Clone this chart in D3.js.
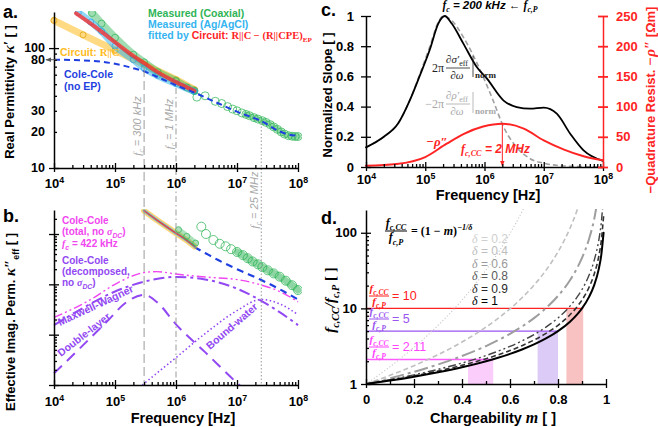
<!DOCTYPE html>
<html>
<head>
<meta charset="utf-8">
<script src="https://cdn.jsdelivr.net/npm/d3@7/dist/d3.min.js"></script>
<style>
  body { margin: 0; background: #fff; }
  svg { font-family: 'Liberation Sans', Arial, sans-serif; font-weight: bold; }
</style>
</head>
<body>
<svg id="fig" width="658" height="427"></svg>
<script>
// ---------- panel a : real permittivity ----------
const freqColeA = [1e4, 3e4, 6e4, 1e5, 2e5, 3e5, 6e5, 1e6, 2e6, 5e6, 1e7, 2.5e7, 5e7, 7e7, 1e8];
const kappaColeA = [80, 79, 77, 74, 68, 64, 55, 49, 42.5, 34.5, 29.5, 24.6, 20.2, 19, 18.6];
const freqCoaxA = [4.2e4, 6e4, 1e5, 2e5, 3e5, 5e5, 1e6, 1.5e6, 2e6];
const kappaCoaxA = [196, 160, 122, 88, 76, 63, 53, 47, 44];
const freqCoaxTailA = [2.2e6, 3e6, 4.4e6, 5.6e6, 7e6, 8.5e6, 1e7, 1.2e7, 1.4e7, 1.6e7, 1.9e7, 2.2e7, 2.6e7, 3e7, 3.5e7, 4e7, 4.6e7, 5.3e7, 6e7, 7e7, 8e7, 9e7, 1e8];
const kappaCoaxTailA = [39, 40, 36, 34.5, 32.5, 31, 30, 28.8, 28, 27.3, 26.3, 25.6, 24.8, 24, 23, 22, 21, 20, 19.2, 18.6, 18.4, 18.3, 18.3];
const freqAgA = [2.5e4, 4e4, 6e4, 1e5, 2e5, 3e5, 5e5, 1e6, 2e6];
const kappaAgA = [198, 165, 138, 104, 80, 68, 59, 50.5, 43.5];
const freqFitA = [2.3e4, 4e4, 6e4, 1e5, 2e5, 3e5, 5e5, 1e6, 2e6];
const kappaFitA = [195, 160, 137, 112, 86, 75, 63, 52, 44];
const freqRcA = [1e4, 3e4, 1e5, 3e5, 1e6, 2e6];
const kappaRcA = [170, 129, 96, 73, 54.5, 45];

// ---------- panel b : imaginary permittivity ----------
const freqFitB = [3e5, 5e5, 1e6, 1.5e6, 2e6];
const kappaFitB = [290, 185, 104, 75, 57];
const freqCoaxB = [1.1e6, 1.5e6, 2.1e6];
const kappaCoaxB = [122, 90, 66];
const freqCoaxTailB = [2.6e6, 3.1e6, 4.1e6, 5.2e6, 6.5e6, 8e6, 1e7, 1.25e7, 1.5e7, 1.8e7, 2.2e7, 2.6e7, 3.2e7, 4e7, 5e7, 6.3e7, 8e7, 1e8];
const kappaCoaxTailB = [140, 100, 76, 64, 57, 50, 44, 38, 33, 28.5, 25, 22, 19, 16.5, 14.2, 11.8, 9.6, 7.7];
const freqColeB = [2e6, 3e6, 5e6, 1e7, 2.5e7, 5e7, 1e8];
const kappaColeB = [55, 42, 30, 20, 12.2, 8, 5];
const freqTotalB = [1e4, 3.9e4, 1.07e5, 3e5, 4.8e5, 1e6, 3e6, 1.1e7, 2.5e7, 5e7, 1e8];
const kappaTotalB = [2.2, 4.9, 10.5, 17.1, 17.9, 16, 14, 12.2, 9.7, 7.2, 4.5];
const freqMwB = [1e4, 3e4, 1e5, 3e5, 1e6, 3e6, 1e7, 2.5e7, 5e7, 1e8];
const kappaMwB = [1.55, 3.4, 7.2, 11.3, 14, 12.5, 8.2, 4.7, 2.8, 1.55];
const freqDlB = [1e4, 3e4, 7.8e4, 1.46e5, 3e5, 5e5, 1e6, 3e6, 1e7, 1.2e7];
const kappaDlB = [0.17, 0.62, 1.96, 4.2, 6.2, 4.3, 1.6, 0.45, 0.11, 0.09];
const freqBwB = [2.8e5, 1e6, 3e6, 1e7, 2.5e7, 5e7, 1e8];
const kappaBwB = [0.1, 0.35, 1.05, 3.0, 5.0, 4.1, 2.5];
const cornerFreqs = [3e5, 1e6, 2.5e7];
const cornerLabels = ['300 kHz', '1 MHz', '25 MHz'];

// ---------- panel c : normalized slopes ----------
const freqSigma = [1e4, 2e4, 3.5e4, 5.6e4, 8e4, 1.2e5, 1.66e5, 2.14e5, 2.8e5, 4.4e5, 7.4e5, 1.1e6, 2.1e6, 3.5e6, 5.9e6, 1e7, 1.66e7, 2.8e7, 4.7e7, 1e8];
const slopeSigma = [0.13, 0.2, 0.29, 0.45, 0.6, 0.78, 0.95, 1.0, 0.95, 0.817, 0.662, 0.585, 0.44, 0.397, 0.386, 0.393, 0.353, 0.22, 0.11, 0.04];
const freqRho = [1e4, 2e4, 3.5e4, 5.6e4, 8e4, 1.2e5, 1.66e5, 2e5, 2.8e5, 4.4e5, 8.5e5, 1.4e6, 2.1e6, 3.5e6, 5.9e6, 1.1e7, 2.2e7, 1e8];
const slopeRho = [0.13, 0.2, 0.29, 0.45, 0.61, 0.8, 0.96, 1.0, 0.97, 0.86, 0.64, 0.44, 0.265, 0.13, 0.055, 0.022, 0.007, 0];
const freqQuad = [1e4, 3.3e4, 1e5, 2.3e5, 4.5e5, 9.5e5, 2e6, 4.6e6, 1e7, 2.2e7, 4.7e7, 1e8];
const rhoQuad = [2, 5, 16.5, 38.6, 55, 67, 71.7, 63.5, 44, 28.7, 17.7, 11];

// ---------- panel d : f_c,CC / f_c,P ----------
const chargeM = [0, 0.1, 0.2, 0.3, 0.4, 0.5, 0.55, 0.6, 0.65, 0.7, 0.75, 0.8, 0.85, 0.88, 0.9, 0.93, 0.95, 0.97, 0.98, 0.99];
const deltas = [0.2, 0.4, 0.6, 0.8, 0.9, 1];
const ratioD02 = [1, 1.694, 3.052, 5.95, 12.86, 32.0, 54.19, 97.66, 190.4, 411.5];
const ratioD04 = [1, 1.301, 1.747, 2.439, 3.586, 5.657, 7.362, 9.882, 13.8, 20.29, 32.0, 55.9, 114.8, 200.5, 316];
const ratioD06 = [1, 1.192, 1.45, 1.812, 2.343, 3.175, 3.784, 4.605, 5.753, 7.438, 10.08, 14.62, 23.61, 34.25, 46.42, 84.1, 147.4, 345];
const ratioD08 = [1, 1.141, 1.322, 1.562, 1.894, 2.378, 2.713, 3.144, 3.715, 4.504, 5.657, 7.477, 10.71, 14.16, 17.78, 27.77, 42.29, 80.1, 132.9, 316];
const ratioD09 = [1, 1.124, 1.281, 1.486, 1.764, 2.16, 2.428, 2.768, 3.211, 3.81, 4.666, 5.98, 8.231, 10.55, 12.92, 19.2, 27.9, 49.2, 77.2, 166.8];
const ratioD10 = [1, 1.111, 1.25, 1.429, 1.667, 2.0, 2.222, 2.5, 2.857, 3.333, 4.0, 5.0, 6.667, 8.333, 10.0, 14.29, 20.0, 33.33, 50.0, 100.0];
const bandRatio = [2.11, 5, 10];
const bandLow = [0.425, 0.715, 0.835];
const bandHigh = [0.53, 0.8, 0.905];

const SERIF = "'Liberation Serif', 'Times New Roman', serif";
const green = '#2fb457', lblue = '#35b4ef', red = '#ff2424', orange = '#ffbb1c';
const blue = '#1f3fe0', magenta = '#f046f0', purple = '#9248f2';

const svg = d3.select('#fig');
const defs = svg.append('defs');

const xA = d3.scaleLog().domain([1e4, 1e8]).range([54, 298]);
const yA = d3.scaleLog().domain([10, 200]).range([168, 12]);
const xB = xA;
const yB = d3.scaleLog().domain([0.1, 300]).range([385, 210]);
const xC = d3.scaleLog().domain([1e4, 1e8]).range([366, 603]);
const yC = d3.scaleLinear().domain([0, 1]).range([167, 16]);
const yC2 = d3.scaleLinear().domain([0, 250]).range([167, 16]);
const xD = d3.scaleLinear().domain([0, 1]).range([366, 606]);
const yD = d3.scaleLog().domain([1, 200]).range([384, 210]);

function clip(id, x, y, w, h) {
  defs.append('clipPath').attr('id', id).append('rect')
    .attr('x', x).attr('y', y).attr('width', w).attr('height', h);
}
clip('clipA', 50, 11, 252, 158);
clip('clipB', 50, 209, 252, 177);
clip('clipD', 366, 209, 242, 176);

function arrowHead(id, color) {
  defs.append('marker').attr('id', id).attr('viewBox', '0 0 10 10')
    .attr('refX', 9).attr('refY', 5).attr('markerWidth', 6).attr('markerHeight', 6)
    .attr('orient', 'auto-start-reverse')
    .append('path').attr('d', 'M0,1 L10,5 L0,9 z').attr('fill', color);
}
arrowHead('arrRed', red);
arrowHead('arrGray', '#555');

const pairs = (a, b) => a.map((v, i) => [v, b[i]]);
const lineOf = (x, y) => d3.line().x(d => x(d[0])).y(d => y(d[1])).curve(d3.curveMonotoneX);

function curve(g, x, y, data, color, width, dash, op) {
  return g.append('path').datum(data).attr('d', lineOf(x, y))
    .attr('fill', 'none').attr('stroke', color).attr('stroke-width', width)
    .attr('stroke-dasharray', dash || null).attr('stroke-opacity', op == null ? 1 : op)
    .attr('stroke-linecap', dash ? 'butt' : 'round');
}
function rings(g, x, y, data, color, r, op) {
  g.selectAll(null).data(data).enter().append('circle')
    .attr('cx', d => x(d[0])).attr('cy', d => y(d[1])).attr('r', r)
    .attr('fill', 'none').attr('stroke', color).attr('stroke-width', 1).attr('stroke-opacity', op);
}

// rich text with sub/superscripts
function rich(parent, x, y, size, parts, attrs) {
  const t = parent.append('text').attr('x', x).attr('y', y).attr('font-size', size);
  Object.entries(attrs || {}).forEach(([k, v]) => t.attr(k, v));
  let shift = 0;
  parts.forEach(p => {
    const o = typeof p === 'string' ? { t: p } : p;
    const target = o.sub ? size * 0.28 : o.sup ? -size * 0.42 : 0;
    const s = t.append('tspan').attr('dy', target - shift).text(o.t);
    shift = target;
    if (o.sub || o.sup) s.attr('font-size', size * 0.68);
    if (o.fill) s.attr('fill', o.fill);
    if (o.italic) s.attr('font-style', 'italic');
    if (o.serif) s.attr('font-family', SERIF);
    if (o.size) s.attr('font-size', o.size);
  });
  return t;
}

function logMinors(scale) {
  const [lo, hi] = scale.domain();
  const out = [];
  for (let e = Math.floor(Math.log10(lo)); e <= Math.ceil(Math.log10(hi)); e++) {
    for (let k = 2; k < 10; k++) {
      const v = k * Math.pow(10, e);
      if (v > lo && v < hi) out.push(v);
    }
  }
  return out;
}

function styleAxis(g, color) {
  g.selectAll('.domain').attr('stroke', color).attr('stroke-width', 1.5);
  g.selectAll('.tick line').attr('stroke', color).attr('stroke-width', 1.3);
}

// bottom axis with crossing major ticks, inner minor ticks
function bottomAxis(x, y0, majors, minors, label) {
  const g = svg.append('g').attr('transform', `translate(0,${y0})`);
  g.call(d3.axisBottom(x).tickValues(minors).tickSizeInner(-3).tickSizeOuter(0).tickFormat(''));
  const gm = g.append('g').call(d3.axisBottom(x).tickValues(majors).tickSizeInner(4).tickSizeOuter(0).tickFormat(''));
  gm.select('.domain').remove();
  gm.selectAll('.tick line').attr('y1', -5);
  styleAxis(g, '#000');
  gm.selectAll('.tick').each(function (d) { label(d3.select(this), d); });
  return g;
}
function leftAxis(x0, y, majors, minors, color) {
  const g = svg.append('g').attr('transform', `translate(${x0},0)`);
  g.call(d3.axisLeft(y).tickValues(minors).tickSizeInner(-3).tickSizeOuter(0).tickFormat(''));
  const gm = g.append('g').call(d3.axisLeft(y).tickValues(majors).tickSizeInner(5).tickSizeOuter(0).tickFormat(''));
  gm.select('.domain').remove();
  gm.selectAll('.tick line').attr('x1', 5);
  styleAxis(g, color || '#000');
  return g;
}
const powLabel = dy => (sel, d) => {
  rich(sel, 0, dy, 13, ['10', { t: String(Math.round(Math.log10(d))).replace('-', '\u2212'), sup: true }],
    { 'text-anchor': 'middle', fill: '#000' });
};
function yLabel(g, x, y, text, size, color) {
  g.append('text').attr('x', x).attr('y', y).attr('dy', '0.35em').attr('text-anchor', 'end')
    .attr('font-size', size || 13).attr('fill', color || '#000').text(text);
}
function yPow(g, x, y, d) {
  rich(g, x, y, 13, ['10', { t: String(Math.round(Math.log10(d))).replace('-', '\u2212'), sup: true }],
    { 'text-anchor': 'end', dy: '0.35em' });
}

// ================= PANEL A =================
const gA = svg.append('g').attr('clip-path', 'url(#clipA)');
curve(gA, xA, yA, pairs(freqRcA, kappaRcA), orange, 7, null, 0.55);
rings(gA, xA, yA, pairs(freqRcA, kappaRcA), '#e0a000', 3, 0.7);
curve(gA, xA, yA, pairs(freqCoaxA, kappaCoaxA), green, 8, null, 0.45);
rings(gA, xA, yA, pairs(freqCoaxA, kappaCoaxA), green, 3.5, 0.7);
curve(gA, xA, yA, pairs(freqAgA, kappaAgA), lblue, 7, null, 0.55);
rings(gA, xA, yA, pairs(freqAgA, kappaAgA), '#1a9fe0', 3, 0.6);
curve(gA, xA, yA, pairs(freqFitA, kappaFitA), red, 4, null, 0.75);
curve(gA, xA, yA, pairs(freqCoaxTailA.slice(8), kappaCoaxTailA.slice(8)), green, 6, null, 0.55);
rings(gA, xA, yA, pairs(freqCoaxTailA, kappaCoaxTailA), green, 4, 0.75);
curve(gA, xA, yA, pairs(freqColeA, kappaColeA), blue, 2, '6,4');

// ================= PANEL B =================
const gB = svg.append('g').attr('clip-path', 'url(#clipB)');
curve(gB, xB, yB, pairs(freqTotalB, kappaTotalB), magenta, 1.4, '9,3,2,3,2,3');
curve(gB, xB, yB, pairs(freqMwB, kappaMwB), purple, 2, '11,4,3,4');
curve(gB, xB, yB, pairs(freqDlB, kappaDlB), purple, 2, '11,7');
curve(gB, xB, yB, pairs(freqBwB, kappaBwB), purple, 1.6, '1.5,2.5');
curve(gB, xB, yB, pairs(freqColeB, kappaColeB), blue, 2.2, '7,5');
curve(gB, xB, yB, pairs(freqFitB, kappaFitB), orange, 6, null, 0.6);
curve(gB, xB, yB, pairs(freqFitB, kappaFitB), lblue, 3, null, 0.7);
curve(gB, xB, yB, pairs(freqFitB, kappaFitB), red, 1.5, null, 0.8);
curve(gB, xB, yB, pairs(freqCoaxB, kappaCoaxB), green, 6, null, 0.4);
rings(gB, xB, yB, pairs(freqCoaxB, kappaCoaxB), green, 3, 0.7);
curve(gB, xB, yB, pairs(freqCoaxTailB.slice(6), kappaCoaxTailB.slice(6)), green, 7, null, 0.55);
rings(gB, xB, yB, pairs(freqCoaxTailB, kappaCoaxTailB), green, 4.5, 0.75);

// corner-frequency guide lines spanning a and b
const guideDash = ['9,4', '6,3,1.5,3', '1.5,2'];
const guideTop = [68, 88, 123];
const guides = svg.append('g');
cornerFreqs.forEach((f, i) => {
  guides.append('line').attr('x1', xA(f)).attr('x2', xA(f)).attr('y1', guideTop[i]).attr('y2', 385)
    .attr('stroke', '#9a9a9a').attr('stroke-width', 1).attr('stroke-dasharray', guideDash[i]);
});
const guideLabelPos = [[141, 126], [173, 124], [258, 200]];
cornerFreqs.forEach((f, i) => {
  const [lx, ly] = guideLabelPos[i];
  rich(guides, 0, 0, 11, [{ t: 'f', serif: true }, { t: 'c', sub: true, serif: true }, ' = ' + cornerLabels[i]],
    { transform: `translate(${lx},${ly}) rotate(-90)`, 'text-anchor': 'middle', fill: '#a8a8a8',
      'font-style': 'italic', 'font-weight': 'normal' });
});

// axes a
bottomAxis(xA, 168, [1e4, 1e5, 1e6, 1e7, 1e8], logMinors(xA), powLabel(20));
const axA = leftAxis(54, yA, [10, 100], logMinors(yA));
[10, 20, 30, 80, 100].forEach(v => yLabel(axA, -9, yA(v), String(v), 12.5));
svg.append('line').attr('x1', 57).attr('x2', 46).attr('y1', yA(80)).attr('y2', yA(80))
  .attr('stroke', '#555').attr('stroke-width', 1).attr('marker-end', 'url(#arrGray)');

// axes b
bottomAxis(xB, 385, [1e4, 1e5, 1e6, 1e7, 1e8], logMinors(xB), powLabel(21));
const axB = leftAxis(54, yB, [0.1, 1, 10, 100], logMinors(yB));
[0.1, 1, 10, 100].forEach(v => yPow(axB, -8, yB(v), v));

// texts a
const tA = svg.append('g');
tA.append('text').attr('x', 3).attr('y', 18).attr('font-size', 18).text('a.');
tA.append('text').attr('transform', 'translate(14,92) rotate(-90)').attr('text-anchor', 'middle')
  .attr('font-size', 13).call(t => {
    t.append('tspan').text('Real Permittivity ');
    t.append('tspan').attr('font-family', SERIF).attr('font-style', 'italic').attr('font-size', 15).text('\u03ba\u2032');
    t.append('tspan').text(' [ ]');
  });
tA.append('text').attr('x', 148).attr('y', 17).attr('font-size', 10.5).attr('fill', green).text('Measured (Coaxial)');
tA.append('text').attr('x', 148).attr('y', 28).attr('font-size', 10.5).attr('fill', lblue).text('Measured (Ag/AgCl)');
rich(tA, 148, 39, 10.5, [{ t: 'fitted by ', fill: lblue }, { t: 'Circuit: ', fill: red },
  { t: 'R||C \u2212 (R||CPE)', fill: red, serif: true }, { t: 'EP', sub: true, fill: red, serif: true }]);
rich(tA, 60, 56, 10.5, [{ t: 'Circuit: ' }, { t: 'R||C', serif: true }], { fill: orange });
tA.append('text').attr('x', 64).attr('y', 78).attr('font-size', 10.5).attr('fill', blue).text('Cole-Cole');
tA.append('text').attr('x', 64).attr('y', 90).attr('font-size', 10.5).attr('fill', blue).text('(no EP)');

// texts b
const tB = svg.append('g');
tB.append('text').attr('x', 3).attr('y', 222).attr('font-size', 18).text('b.');
rich(tB, 0, 0, 13, ['Effective Imag. Perm. ', { t: '\u03ba\u2033', serif: true, italic: true, size: 15 },
  { t: 'eff', sub: true }, ' [ ]'], { transform: 'translate(15,322) rotate(-90)', 'text-anchor': 'middle' });
tB.append('text').attr('x', 62).attr('y', 224).attr('font-size', 10).attr('fill', magenta).text('Cole-Cole');
rich(tB, 62, 235, 10, ['(total, no ', { t: '\u03c3', serif: true, italic: true }, { t: 'DC', sub: true, italic: true }, ')'], { fill: magenta });
rich(tB, 62, 247, 10, [{ t: 'f', serif: true, italic: true }, { t: 'c', sub: true, italic: true }, ' = 422 kHz'], { fill: magenta });
tB.append('text').attr('x', 62).attr('y', 264).attr('font-size', 10).attr('fill', purple).text('Cole-Cole');
tB.append('text').attr('x', 62).attr('y', 275).attr('font-size', 10).attr('fill', purple).text('(decomposed,');
rich(tB, 62, 286, 10, ['no ', { t: '\u03c3', serif: true, italic: true }, { t: 'DC', sub: true, italic: true }, ')'], { fill: purple });
tB.append('text').attr('transform', 'translate(60,326) rotate(-25)').attr('font-size', 10.5).attr('fill', purple).text('Maxwell-Wagner');
tB.append('text').attr('transform', 'translate(61,357) rotate(-38)').attr('font-size', 10.5).attr('fill', purple).text('Double-layer');
tB.append('text').attr('transform', 'translate(210,350) rotate(-41)').attr('font-size', 10.5).attr('fill', purple).text('Bound-water');
tB.append('text').attr('x', 183).attr('y', 423).attr('text-anchor', 'middle').attr('font-size', 14.5).text('Frequency [Hz]');

// ================= PANEL C =================
const gC = svg.append('g');
curve(gC, xC, yC, pairs(freqRho, slopeRho), '#a0a0a0', 1.6, '5,3');
curve(gC, xC, yC, pairs(freqSigma, slopeSigma), '#000', 1.8);
curve(gC, xC, yC2, pairs(freqQuad, rhoQuad), red, 2);
gC.append('line').attr('x1', xC(2e6)).attr('x2', xC(2e6)).attr('y1', yC2(71.7)).attr('y2', yC2(0) - 1)
  .attr('stroke', red).attr('stroke-width', 1).attr('marker-end', 'url(#arrRed)');

bottomAxis(xC, 167, [1e4, 1e5, 1e6, 1e7, 1e8], logMinors(xC), powLabel(17));
const axC = svg.append('g').attr('transform', 'translate(366,0)');
axC.call(d3.axisLeft(yC).tickValues([0, 0.2, 0.4, 0.6, 0.8, 1]).tickSizeInner(5).tickSizeOuter(0)
  .tickFormat(d => String(d)).tickPadding(7));
axC.selectAll('.tick line').attr('x1', 5);
axC.selectAll('.tick text').attr('font-size', 13).attr('font-family', null).attr('font-weight', 'bold');
styleAxis(axC, '#000');
const axC2 = svg.append('g').attr('transform', 'translate(603,0)');
axC2.call(d3.axisRight(yC2).tickValues([0, 50, 100, 150, 200, 250]).tickSizeInner(5).tickSizeOuter(0).tickPadding(8));
axC2.selectAll('.tick line').attr('x1', -5);
axC2.selectAll('.tick text').attr('font-size', 13).attr('font-family', null).attr('font-weight', 'bold').attr('fill', red);
styleAxis(axC2, red);
axC2.selectAll('.tick line').attr('stroke-width', 1.8);

const tC = svg.append('g');
tC.append('text').attr('x', 321).attr('y', 16).attr('font-size', 18).text('c.');
tC.append('text').attr('transform', 'translate(332,95) rotate(-90)').attr('text-anchor', 'middle')
  .attr('font-size', 13).text('Normalized Slope [ ]');
rich(tC, 0, 0, 13, ['\u2212Quadrature Resist. ', { t: '\u2212\u03c1\u2033', serif: true, italic: true, size: 15 }, ' [\u03a9m]'],
  { transform: 'translate(655,100) rotate(-90)', 'text-anchor': 'middle', fill: red });
tC.append('text').attr('x', 488).attr('y', 200).attr('text-anchor', 'middle').attr('font-size', 14.5).text('Frequency [Hz]');
rich(tC, 490, 9, 11.5, [{ t: 'f', serif: true }, { t: 'c', sub: true, serif: true }, ' = 200 kHz \u2190 ',
  { t: 'f', serif: true }, { t: 'c,P', sub: true, serif: true }], { 'text-anchor': 'middle', 'font-style': 'italic' });

function slopeFormula(g, x, y, lead, sym, color) {
  const f = g.append('g').attr('fill', color).attr('font-family', SERIF).attr('font-weight', 'normal');
  f.append('text').attr('x', x).attr('y', y + 4).attr('font-size', 12).attr('text-anchor', 'end').text(lead);
  rich(f, x + 13, y - 5, 11, [{ t: '\u2202' + sym + '\u2032', italic: true }, { t: 'eff', sub: true, size: 8, serif: true }],
    { 'text-anchor': 'middle' });
  f.append('line').attr('x1', x + 2).attr('x2', x + 26).attr('y1', y).attr('y2', y).attr('stroke', color).attr('stroke-width', 0.8);
  f.append('text').attr('x', x + 13).attr('y', y + 11).attr('font-size', 11).attr('font-style', 'italic')
    .attr('text-anchor', 'middle').text('\u2202\u03c9');
  f.append('line').attr('x1', x + 29).attr('x2', x + 29).attr('y1', y - 12).attr('y2', y + 9).attr('stroke', color).attr('stroke-width', 0.8);
  f.append('text').attr('x', x + 31).attr('y', y + 10).attr('font-size', 9).attr('font-weight', 'bold').text('norm');
}
slopeFormula(tC, 444, 68, '2\u03c0', '\u03c3', '#222');
slopeFormula(tC, 444, 104, '\u22122\u03c0', '\u03c1', '#a8a8a8');
rich(tC, 426, 146, 13, [{ t: '\u2212\u03c1\u2033' }], { fill: red, 'font-family': SERIF, 'font-style': 'italic' });
rich(tC, 461, 153, 12, [{ t: 'f', serif: true }, { t: 'c,CC', sub: true, serif: true }, ' = 2 MHz'],
  { fill: red, 'font-style': 'italic' });

// ================= PANEL D =================
const gD = svg.append('g');
bandRatio.forEach((r, i) => {
  gD.append('rect').attr('x', xD(bandLow[i])).attr('width', xD(bandHigh[i]) - xD(bandLow[i]))
    .attr('y', yD(r)).attr('height', yD(1) - yD(r))
    .attr('fill', ['#fbcdfb', '#dccbf7', '#f8c2c2'][i]);
});
bandRatio.forEach((r, i) => {
  gD.append('line').attr('x1', xD(0)).attr('x2', xD(bandHigh[i])).attr('y1', yD(r)).attr('y2', yD(r))
    .attr('stroke', ['#ff5cff', '#9a55f0', '#ff2020'][i]).attr('stroke-width', 1.4);
});
const ratioSets = [ratioD02, ratioD04, ratioD06, ratioD08, ratioD09, ratioD10];
const dStroke = ['#c8c8c8', '#c0c0c0', '#9e9e9e', '#444', '#333', '#000'];
const dDash = ['1.2,2', '5,3', '14,4,3,4', '8,3,2,3,2,3', '5,3', null];
const dWidth = [1.1, 1.6, 2, 1.4, 1.6, 2];
const gDc = svg.append('g').attr('clip-path', 'url(#clipD)');
ratioSets.forEach((vals, i) => {
  curve(gDc, xD, yD, vals.map((v, j) => [chargeM[j], v]), dStroke[i], dWidth[i], dDash[i]);
});

bottomAxis(xD, 384, [0, 0.2, 0.4, 0.6, 0.8, 1], [0.1, 0.3, 0.5, 0.7, 0.9], (sel, d) => {
  sel.append('text').attr('y', 20).attr('text-anchor', 'middle').attr('font-size', 13).attr('fill', '#000').text(String(d));
});
const axD = leftAxis(366, yD, [1, 10, 100], logMinors(yD));
[1, 10, 100].forEach(v => yLabel(axD, -9, yD(v), String(v)));

const tD = svg.append('g');
tD.append('text').attr('x', 321).attr('y', 224).attr('font-size', 18).text('d.');
tD.append('text').attr('x', 493).attr('y', 423).attr('text-anchor', 'middle').attr('font-size', 14.5).call(t => {
  t.append('tspan').text('Chargeability ');
  t.append('tspan').attr('font-family', SERIF).attr('font-style', 'italic').attr('font-size', 16).text('m');
  t.append('tspan').text(' [ ]');
});
rich(tD, 0, 0, 15, [{ t: 'f', italic: true }, { t: 'c,CC', sub: true, italic: true }, { t: '/', italic: true },
  { t: 'f', italic: true }, { t: 'c,P', sub: true, italic: true }, ' [ ]'],
  { transform: 'translate(335,300) rotate(-90)', 'text-anchor': 'middle', 'font-family': SERIF });

function ratioFrac(g, x, y, color, size, half) {
  const f = g.append('g').attr('fill', color).attr('font-family', SERIF).attr('font-style', 'italic');
  rich(f, x, y - 4.5, size, ['f', { t: 'c,CC', sub: true }], { 'text-anchor': 'middle' });
  f.append('line').attr('x1', x - half).attr('x2', x + half).attr('y1', y).attr('y2', y).attr('stroke', color).attr('stroke-width', 1);
  rich(f, x, y + size * 0.85, size, ['f', { t: 'c,P', sub: true }], { 'text-anchor': 'middle' });
}
ratioFrac(tD, 396, 231, '#000', 12, 11);
rich(tD, 411, 235, 12, ['= (1 \u2212 ', { t: 'm', italic: true }, ')', { t: '\u22121/\u03b4', sup: true, italic: true }],
  { 'font-family': SERIF });
const ratioTxt = ['2.11', '5', '10'];
const ratioCol = ['#ff44ff', '#9a55f0', '#ff2020'];
const ratioY = [347, 319, 296];
bandRatio.forEach((r, i) => {
  ratioFrac(tD, 379, ratioY[i], ratioCol[i], 11, 10);
  tD.append('text').attr('x', 392).attr('y', ratioY[i] + 4).attr('font-size', 12.5).attr('font-weight', 'normal')
    .attr('fill', ratioCol[i]).text('= ' + ratioTxt[i]);
});
const legCol = ['#cfcfcf', '#bdbdbd', '#9a9a9a', '#5a5a5a', '#2a2a2a', '#000'];
deltas.forEach((d, i) => {
  rich(tD, 472, 243 + i * 12.4, 12, [{ t: '\u03b4', serif: true, italic: true }, ' = ' + d],
    { fill: legCol[i], 'font-weight': 'normal' });
});
</script>
</body>
</html>
